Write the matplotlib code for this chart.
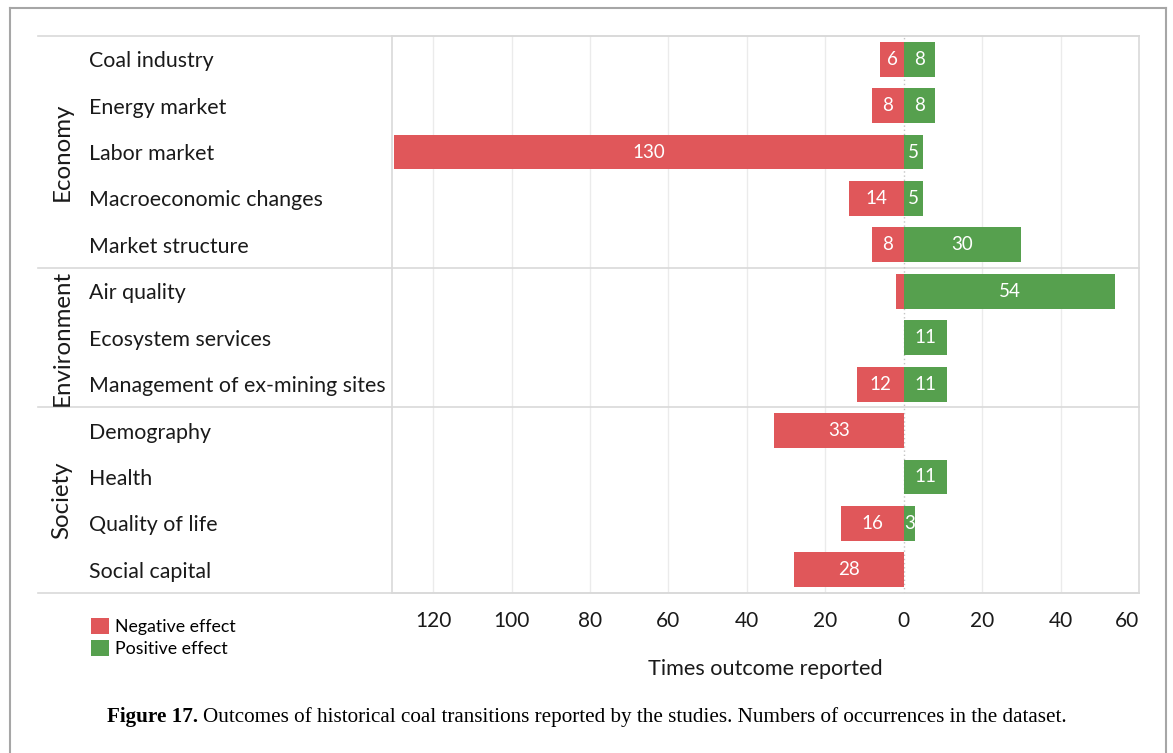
import matplotlib
matplotlib.use("Agg")
import matplotlib.pyplot as plt
from matplotlib.lines import Line2D
from matplotlib.patches import Patch

categories = ["Coal industry", "Energy market", "Labor market", "Macroeconomic changes",
              "Market structure", "Air quality", "Ecosystem services",
              "Management of ex-mining sites", "Demography", "Health",
              "Quality of life", "Social capital"]
negative = [6, 8, 130, 14, 8, 2, 0, 12, 33, 0, 16, 28]
positive = [8, 8, 5, 5, 30, 54, 11, 11, 0, 11, 3, 0]
groups = ["Economy", "Environment", "Society"]
group_sizes = [5, 3, 4]
xticks = [-120, -100, -80, -60, -40, -20, 0, 20, 40, 60]

RED = "#E0575A"
GREEN = "#56A04E"
GRID = "#ebebeb"
LINE = "#d9d9d9"
TXT = "#1a1a1a"
FONT = "Lato"

W, H = 1173, 753
fig = plt.figure(figsize=(W / 100, H / 100), dpi=100)
ax = fig.add_axes([392 / W, 1 - 593 / H, (1139 - 392) / W, (593 - 36) / H])

y = list(range(len(categories)))
neg_vals = [-v for v in negative]
ax.barh(y, neg_vals, height=0.75, color=RED, zorder=3)
ax.barh(y, positive, height=0.75, color=GREEN, zorder=3)

for i in y:
    if negative[i] >= 3:
        ax.text(-negative[i] / 2, i, str(negative[i]), ha="center", va="center",
                color="white", fontsize=13.5, family=FONT, zorder=4)
    if positive[i] >= 3:
        ax.text(positive[i] / 2, i, str(positive[i]), ha="center", va="center",
                color="white", fontsize=13.5, family=FONT, zorder=4)

ax.set_xlim(-130.5, 60)
ax.set_ylim(len(categories) - 0.5, -0.5)

for t in xticks:
    if t == 0:
        ax.axvline(0, color="#c4c4c4", lw=1, ls=(0, (1, 2)), zorder=2)
    elif t != 60:
        ax.axvline(t, color=GRID, lw=1, zorder=1)

ax.set_xticks(xticks)
ax.set_xticklabels([str(abs(t)) for t in xticks], fontsize=15, family=FONT, color=TXT)
ax.get_xticklabels()[-1].set_ha("right")
ax.tick_params(axis="x", length=0, pad=13)

ax.set_yticks(y)
ax.set_yticklabels(categories, fontsize=15.4, family=FONT, color=TXT, ha="left")
ax.tick_params(axis="y", length=0, pad=218)

ax.set_xlabel("Times outcome reported", fontsize=15.6, family=FONT, color=TXT, labelpad=20)

for s in ax.spines.values():
    s.set_color(LINE)
    s.set_linewidth(1.2)

# horizontal table lines extending to the left
x_left = (38 - 392) / (1139 - 392)
ytr = ax.get_yaxis_transform()
bounds = [-0.5]
acc = -0.5
for g in group_sizes:
    acc += g
    bounds.append(acc)
for b in bounds:
    ax.plot([x_left, 1], [b, b], transform=ytr, color=LINE, lw=1.2, clip_on=False, zorder=1)

# group labels
start = -0.5
for g, n in zip(groups, group_sizes):
    mid = start + n / 2
    ax.text((62 - 392) / (1139 - 392), mid, g, transform=ytr, rotation=90,
            ha="center", va="center", fontsize=17.3, family=FONT, color=TXT)
    start += n

# legend
handles = [Patch(facecolor=RED, label="Negative effect"),
           Patch(facecolor=GREEN, label="Positive effect")]
fig.legend(handles=handles, loc="upper left", bbox_to_anchor=(79 / W, 1 - 606 / H),
           frameon=False, prop={"family": FONT, "size": 12.8}, handlelength=1.0,
           handleheight=1.0, handletextpad=0.35, labelspacing=0.25, borderpad=0.2)

# outer frame
fc = "#a6a6a6"
fig.add_artist(Line2D([10 / W, 10 / W], [0, 1 - 8 / H], color=fc, lw=1.5))
fig.add_artist(Line2D([10 / W, 1166 / W], [1 - 8 / H, 1 - 8 / H], color=fc, lw=1.5))
fig.add_artist(Line2D([1166 / W, 1166 / W], [0, 1 - 8 / H], color=fc, lw=1.5))

# caption
fig.canvas.draw()
r = fig.canvas.get_renderer()
cap_y = 1 - 717 / H
t1 = fig.text(107 / W, cap_y, "Figure 17.", family="Liberation Serif", weight="bold",
              fontsize=15.2, va="center", ha="left", color="black")
bb = t1.get_window_extent(renderer=r)
fig.text((bb.x1 + 5) / W, cap_y,
         "Outcomes of historical coal transitions reported by the studies. Numbers of occurrences in the dataset.",
         family="Liberation Serif", fontsize=15.2, va="center", ha="left", color="black")

fig.savefig("out.png", dpi=100)
